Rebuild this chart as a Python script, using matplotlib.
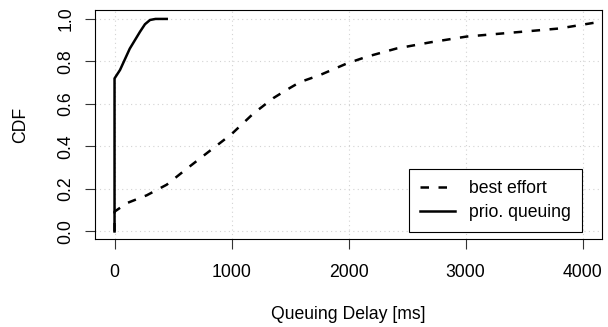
import matplotlib
matplotlib.use('Agg')
import matplotlib.pyplot as plt

# CDF of queuing delay
be_x = [0, 0, 104, 275, 446, 617, 788, 1000, 1185, 1356, 1470, 1586, 1756,
        1984, 2155, 2411, 2700, 3008, 3490, 3800, 4100]
be_y = [0, 0.093, 0.133, 0.17, 0.22, 0.295, 0.368, 0.458, 0.554, 0.627, 0.666,
        0.703, 0.736, 0.79, 0.822, 0.861, 0.89, 0.917, 0.94, 0.955, 0.982]
prio_x = [0, 0, 47, 130, 218, 260, 303, 350, 446]
prio_y = [0, 0.72, 0.76, 0.86, 0.94, 0.975, 0.995, 1.0, 1.0]

xticks = [0, 1000, 2000, 3000, 4000]
yticks = [0.0, 0.2, 0.4, 0.6, 0.8, 1.0]

fs = 12.7
plt.rcParams['font.family'] = 'Liberation Sans'
plt.rcParams['font.size'] = fs

fig = plt.figure(figsize=(6.08, 3.27), dpi=100)
ax = fig.add_axes([0.15625, 0.2682, 0.8344, 0.7012])

lw = 1.8
ax.plot(be_x, be_y, color='black', lw=lw, linestyle=(0, (3.4, 3.8)), label='best effort')
ax.plot(prio_x, prio_y, color='black', lw=lw, label='prio. queuing')

ax.set_xlim(-167, 4169)
ax.set_ylim(-0.037, 1.042)
ax.set_xticks(xticks)
ax.set_yticks(yticks)
ax.set_xticklabels([str(t) for t in xticks])
ax.set_yticklabels(['%.1f' % t for t in yticks], rotation=90, va='center')

ax.grid(True, color='#d3d3d3', linestyle=(0, (1, 3)), lw=0.8)
for s in ax.spines.values():
    s.set_linewidth(0.8)
ax.tick_params(axis='both', length=7, width=0.8, color='#333333', labelsize=fs)
ax.tick_params(axis='x', pad=10.5)
ax.tick_params(axis='y', pad=8)

ax.set_xlabel('Queuing Delay [ms]')
ax.set_ylabel('CDF')
ax.xaxis.set_label_coords(0.5, -0.33)
ax.yaxis.set_label_coords(-0.146, 0.5)
ax.xaxis.label.set_va('center')
ax.yaxis.label.set_va('center')

leg = ax.legend(loc='lower right', bbox_to_anchor=(0.959, 0.033), fancybox=False,
                edgecolor='black', framealpha=1, handlelength=2.0, handletextpad=0.75,
                borderpad=0.62, labelspacing=0.4, fontsize=fs, borderaxespad=0)
leg.get_frame().set_linewidth(0.8)

plt.savefig('out.png', dpi=100)
